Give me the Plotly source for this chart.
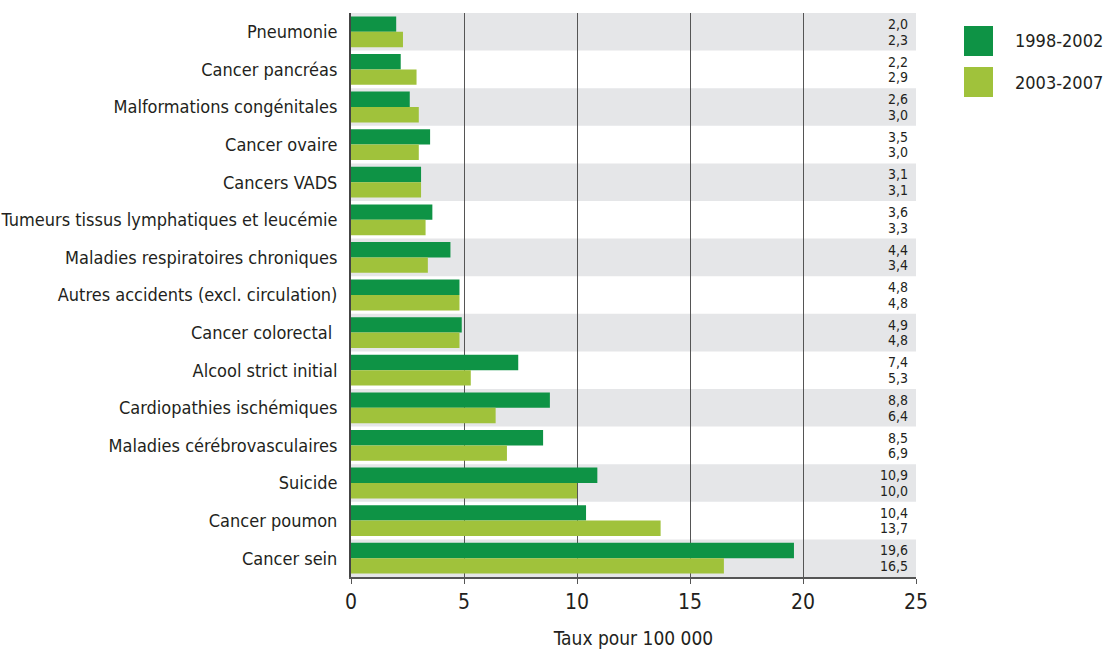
import plotly.graph_objects as go

categories = [
    "Pneumonie",
    "Cancer pancréas",
    "Malformations congénitales",
    "Cancer ovaire",
    "Cancers VADS",
    "Tumeurs tissus lymphatiques et leucémie",
    "Maladies respiratoires chroniques",
    "Autres accidents (excl. circulation)",
    "Cancer colorectal ",
    "Alcool strict initial",
    "Cardiopathies ischémiques",
    "Maladies cérébrovasculaires",
    "Suicide",
    "Cancer poumon",
    "Cancer sein",
]
period_1 = "1998-2002"
period_2 = "2003-2007"
values_1 = [2.0, 2.2, 2.6, 3.5, 3.1, 3.6, 4.4, 4.8, 4.9, 7.4, 8.8, 8.5, 10.9, 10.4, 19.6]
values_2 = [2.3, 2.9, 3.0, 3.0, 3.1, 3.3, 3.4, 4.8, 4.8, 5.3, 6.4, 6.9, 10.0, 13.7, 16.5]
x_ticks = [0, 5, 10, 15, 20, 25]

DARK = "#0E9345"
LIGHT = "#A0C23B"
BAND = "#E5E6E8"
TEXT = "#231F20"
FONT = "Liberation Sans Narrow, DejaVu Sans Condensed, Arial Narrow, sans-serif"
BARGAP = 0.18

pos = list(range(len(categories)))

fig = go.Figure()
fig.add_trace(go.Bar(y=pos, x=values_1, orientation="h", name=period_1,
                     marker=dict(color=DARK, line=dict(width=0))))
fig.add_trace(go.Bar(y=pos, x=values_2, orientation="h", name=period_2,
                     marker=dict(color=LIGHT, line=dict(width=0))))

shapes = []
# alternating grey bands behind the rows
for i in pos:
    if i % 2 == 0:
        shapes.append(dict(type="rect", xref="x", yref="y", x0=0, x1=25,
                           y0=i - 0.5, y1=i + 0.5, fillcolor=BAND,
                           line=dict(width=0), layer="below"))

def fmt(v):
    return f"{v:.1f}".replace(".", ",")

# value column on the right, one line per bar, aligned on the bar centres
half = (1 - BARGAP) / 4
annotations = []
for i in pos:
    for off, vals in ((-half, values_1), (half, values_2)):
        annotations.append(dict(x=24.75, y=i + off, xref="x", yref="y",
                                xanchor="right", yanchor="middle",
                                showarrow=False, text=fmt(vals[i]),
                                font=dict(family=FONT, size=14, color=TEXT)))

# legend drawn as coloured squares with labels
for k, (label, color) in enumerate([(period_1, DARK), (period_2, LIGHT)]):
    y_top = 26 + k * 41
    shapes.append(dict(type="rect", xref="paper", yref="paper",
                       x0=(964 - 351) / 565, x1=(993 - 351) / 565,
                       y0=(577 - y_top - 30) / 564, y1=(577 - y_top) / 564,
                       fillcolor=color, line=dict(width=0)))
    annotations.append(dict(x=(1013 - 351) / 565, y=(577 - y_top - 15) / 564,
                            xref="paper", yref="paper", xanchor="left",
                            yanchor="middle", showarrow=False, text=label,
                            font=dict(family=FONT, size=18, color=TEXT)))

fig.update_layout(
    width=1108, height=651,
    margin=dict(l=351, r=192, t=13, b=74, autoexpand=False),
    paper_bgcolor="white", plot_bgcolor="white",
    barmode="group", bargap=BARGAP, bargroupgap=0,
    showlegend=False,
    shapes=shapes, annotations=annotations,
    font=dict(family=FONT, color=TEXT),
)
fig.update_xaxes(
    range=[0, 25], tickvals=x_ticks, ticktext=[str(t) for t in x_ticks],
    showgrid=True, gridcolor="#555555", gridwidth=1.3, zeroline=False,
    showline=True, linecolor="#555555", linewidth=2,
    ticks="outside", ticklen=5, tickcolor="#555555",
    tickfont=dict(family=FONT, size=21, color=TEXT),
    automargin=False,
    title=dict(text="Taux pour 100 000", font=dict(family=FONT, size=19, color=TEXT),
               standoff=18),
)
fig.update_yaxes(
    range=[len(categories) - 0.5, -0.5], tickvals=pos, ticktext=categories,
    showgrid=False, zeroline=False,
    showline=True, linecolor="#444444", linewidth=2,
    ticks="", ticklabelstandoff=8, automargin=False,
    tickfont=dict(family=FONT, size=18, color=TEXT),
)

fig.write_html("out.html")
